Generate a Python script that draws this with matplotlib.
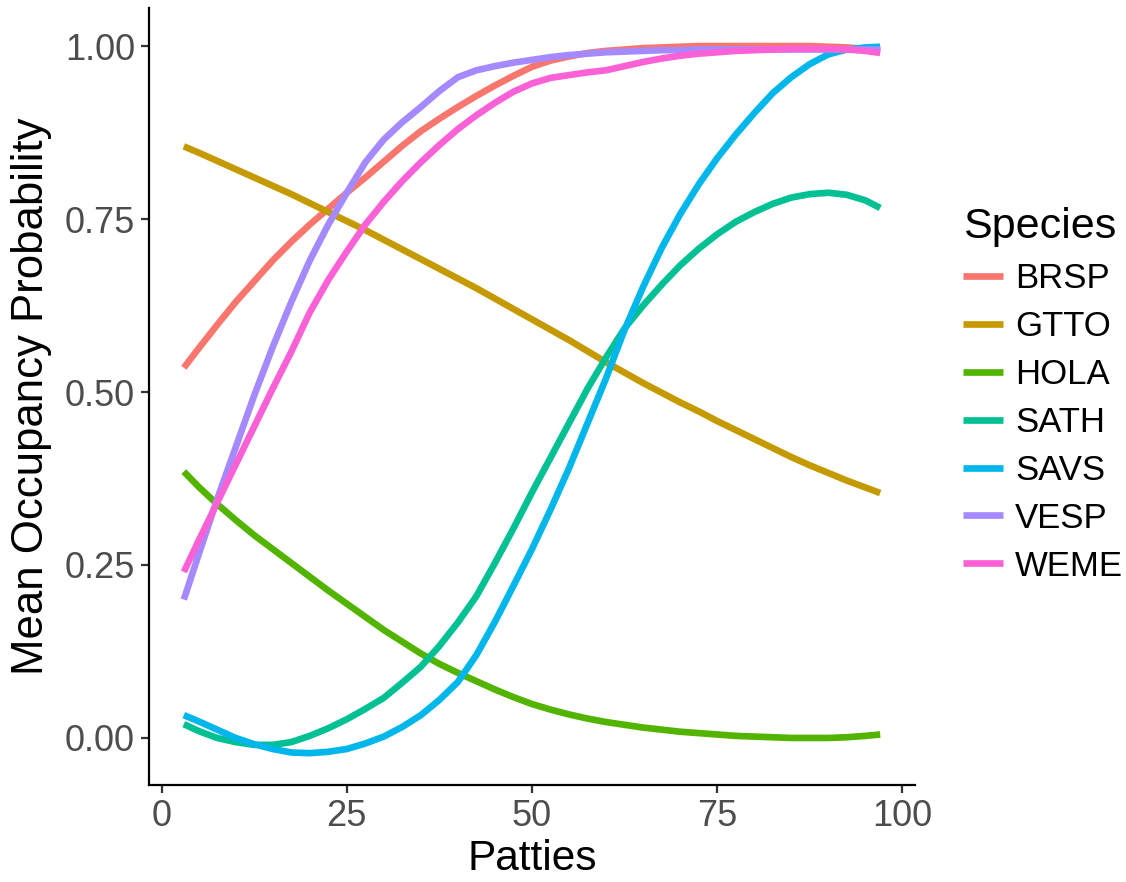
import matplotlib.pyplot as plt

plt.rcParams['font.family'] = ['Liberation Sans', 'DejaVu Sans']

# patties values where the curves were read (every 2.5)
patties = [3, 5, 7.5, 10, 12.5, 15, 17.5, 20, 22.5, 25, 27.5, 30, 32.5, 35, 37.5, 40,
           42.5, 45, 47.5, 50, 52.5, 55, 57.5, 60, 62.5, 65, 67.5, 70, 72.5, 75, 77.5,
           80, 82.5, 85, 87.5, 90, 92.5, 95, 97]

species = ['BRSP', 'GTTO', 'HOLA', 'SATH', 'SAVS', 'VESP', 'WEME']
colors = ['#F8766D', '#C49A00', '#53B400', '#00C094', '#00B6EB', '#A58AFF', '#FB61D7']

brsp = [0.535, 0.563, 0.597, 0.63, 0.66, 0.69, 0.717, 0.742, 0.765, 0.788, 0.81, 0.833,
        0.856, 0.877, 0.895, 0.912, 0.928, 0.943, 0.957, 0.97, 0.979, 0.985, 0.99, 0.993,
        0.995, 0.997, 0.998, 0.999, 1.0, 1.0, 1.0, 1.0, 1.0, 1.0, 1.0, 0.999, 0.998,
        0.996, 0.994]
gtto = [0.855, 0.846, 0.834, 0.822, 0.81, 0.798, 0.786, 0.773, 0.76, 0.747, 0.734, 0.72,
        0.706, 0.692, 0.678, 0.664, 0.65, 0.635, 0.62, 0.605, 0.59, 0.575, 0.559, 0.543,
        0.528, 0.513, 0.499, 0.485, 0.472, 0.458, 0.445, 0.432, 0.419, 0.406, 0.394,
        0.383, 0.372, 0.362, 0.354]
hola = [0.385, 0.363, 0.338, 0.315, 0.293, 0.273, 0.253, 0.233, 0.213, 0.194, 0.175,
        0.156, 0.139, 0.122, 0.107, 0.094, 0.082, 0.07, 0.059, 0.049, 0.041, 0.034, 0.028,
        0.023, 0.019, 0.015, 0.012, 0.009, 0.007, 0.005, 0.003, 0.002, 0.001, 0.0, 0.0,
        0.0, 0.001, 0.003, 0.005]
sath = [0.02, 0.01, 0.0, -0.006, -0.01, -0.01, -0.006, 0.003, 0.014, 0.027, 0.042, 0.058,
        0.08, 0.103, 0.133, 0.167, 0.205, 0.253, 0.303, 0.355, 0.405, 0.455, 0.505, 0.55,
        0.592, 0.625, 0.655, 0.683, 0.707, 0.728, 0.746, 0.76, 0.772, 0.781, 0.786, 0.788,
        0.785, 0.777, 0.766]
savs = [0.033, 0.024, 0.012, 0.0, -0.009, -0.016, -0.021, -0.022, -0.02, -0.016, -0.008,
        0.002, 0.016, 0.033, 0.055, 0.081, 0.12, 0.168, 0.22, 0.273, 0.33, 0.39, 0.455,
        0.52, 0.59, 0.652, 0.708, 0.757, 0.8, 0.838, 0.872, 0.903, 0.932, 0.955, 0.974,
        0.988, 0.995, 0.998, 0.999]
vesp = [0.2, 0.265, 0.345, 0.42, 0.495, 0.565, 0.63, 0.69, 0.742, 0.788, 0.832, 0.865,
        0.89, 0.912, 0.935, 0.955, 0.965, 0.971, 0.976, 0.98, 0.984, 0.987, 0.989, 0.991,
        0.992, 0.993, 0.994, 0.994, 0.995, 0.995, 0.995, 0.995, 0.995, 0.995, 0.995,
        0.995, 0.995, 0.995, 0.995]
weme = [0.24, 0.285, 0.34, 0.395, 0.45, 0.505, 0.558, 0.615, 0.662, 0.703, 0.742, 0.775,
        0.805, 0.832, 0.857, 0.88, 0.9, 0.918, 0.934, 0.946, 0.954, 0.958, 0.962, 0.965,
        0.971, 0.977, 0.982, 0.986, 0.989, 0.991, 0.993, 0.994, 0.995, 0.996, 0.996,
        0.996, 0.995, 0.993, 0.99]

series = [brsp, gtto, hola, sath, savs, vesp, weme]

fig = plt.figure(figsize=(11.26, 8.82), dpi=100)
ax = fig.add_axes([149 / 1126, 1 - 785 / 882, (915 - 149) / 1126, (785 - 8) / 882])

for name, col, vals in zip(species, colors, series):
    ax.plot(patties, vals, color=col, lw=4.8, solid_capstyle='butt', label=name)

ax.set_xlim(-1.7, 101.7)
ax.set_ylim(-0.068, 1.055)
ax.set_xticks([0, 25, 50, 75, 100])
ax.set_yticks([0, 0.25, 0.5, 0.75, 1.0])
ax.set_yticklabels(['0.00', '0.25', '0.50', '0.75', '1.00'])

for s in ['top', 'right']:
    ax.spines[s].set_visible(False)
for s in ['left', 'bottom']:
    ax.spines[s].set_linewidth(1.6)
    ax.spines[s].set_color('black')
ax.tick_params(labelsize=26, colors='#333333', labelcolor='#4D4D4D', length=6, width=1.6, pad=4)

ax.set_xlabel('Patties', fontsize=30.5, labelpad=4)
ax.set_ylabel('Mean Occupancy Probability', fontsize=31.5, labelpad=9)

leg = ax.legend(title='Species', loc='upper left', bbox_to_anchor=(963 / 1126, 1 - 207 / 882),
                bbox_transform=fig.transFigure, frameon=False, fontsize=25,
                title_fontsize=31, handlelength=1.15, handletextpad=0.35, labelspacing=0.43,
                borderpad=0, borderaxespad=0)
leg._legend_box.align = 'left'

fig.savefig('out.png', dpi=100)
